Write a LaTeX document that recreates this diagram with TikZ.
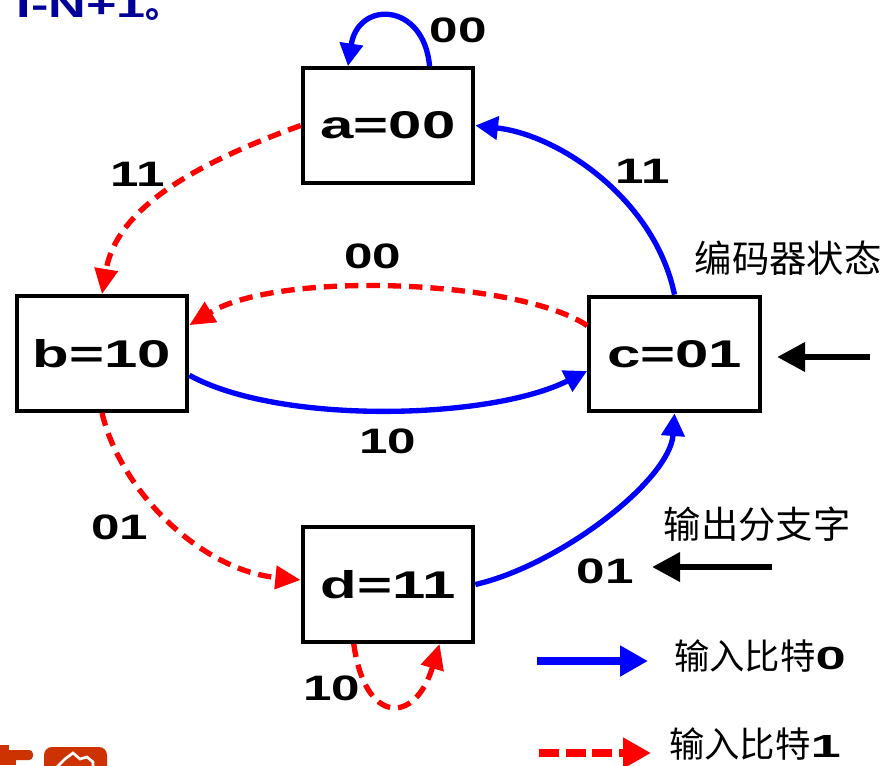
\documentclass[tikz,border=0pt]{standalone}
\usepackage{fontspec}
\setmainfont{Liberation Sans}
\newfontfamily\boxfont[FakeStretch=1.55]{Liberation Sans}
\newfontfamily\labfont[FakeStretch=1.45]{Liberation Sans}
\newfontfamily\legfont[FakeStretch=1.7]{Liberation Sans}
\newfontfamily\cjk{Noto Sans CJK SC}
\usetikzlibrary{arrows.meta}

\definecolor{bitzero}{RGB}{0,0,255}
\definecolor{bitone}{RGB}{255,0,0}
\definecolor{navy}{RGB}{0,0,153}
\definecolor{logo}{RGB}{204,51,0}

\tikzset{every picture/.style={line width=0.75pt}}
\tikzset{
  state/.style={draw, line width=3pt, minimum width=128pt, minimum height=86pt, inner sep=0pt,
    font=\boxfont\bfseries\fontsize{29}{34}\selectfont},
  zero/.style={-{Triangle[length=17pt,width=17pt]}, draw=bitzero, line width=4pt},
  one/.style={-{Triangle[length=19pt,width=17pt]}, draw=bitone, line width=4pt, dash pattern=on 10pt off 6pt},
  lab/.style={inner sep=0pt, font=\labfont\bfseries\fontsize{26.5}{30}\selectfont},
  cn/.style={inner sep=0pt, font=\cjk\fontsize{28}{32}\selectfont},
  pointer/.style={-{Triangle[length=21pt,width=21pt]}, line width=5pt}
}

\begin{document}
\begin{tikzpicture}[x=0.75pt,y=0.75pt,yscale=-1,xscale=1]
\useasboundingbox (0,0) rectangle (887,765);

% cut-off pieces at the edges
\begin{scope}
\clip (0,0) rectangle (887,765);
\node (head) [anchor=base west, inner sep=0pt, text=navy, font=\labfont\bfseries\fontsize{27}{30}\selectfont] at (16,17) {I-N+1{\cjk 。}};
\fill [logo] (0,745) rectangle (9,765);
\fill [logo, rounded corners=3] (0,750) rectangle (33,760);
\fill [logo] (0,758) rectangle (16,765);
\fill [logo, rounded corners=6] (44,747) rectangle (107,790);
\draw [white, line width=2pt] (57,767) -- (65,759) -- (73,753) -- (80,759) -- (87,757) -- (93,762) -- (93,767);
\end{scope}

% states
\node (a) [state] at (388,125.5) {a=00};
\node (b) [state] at (102,353.5) {b=10};
\node (c) [state] at (674.5,354) {c=01};
\node (d) [state] at (388,584.5) {d=11};

% input bit 0
\draw [zero] (a.55) .. controls (424,2) and (358,0) .. (a.124);
\draw [zero] (c.north) .. controls (655,200) and (560,135) .. (a.east);
\draw [zero] (b.-14) .. controls (280,425) and (490,420) .. (c.191);
\draw [zero] (d.east) .. controls (560,565) and (670,480) .. (c.south);

% input bit 1
\draw [one] (a.west) .. controls (200,162) and (117,206) .. (b.north);
\draw [one] (c.162) .. controls (520,280) and (280,270) .. (b.18);
\draw [one] (b.south) .. controls (120,490) and (200,570) .. (d.177);
\draw [one] (d.-120) .. controls (365,725) and (415,725) .. (d.-49);

% branch words
\node (l1) [lab] at (458,30) {00};
\node (l2) [lab] at (138,174) {11};
\node (l3) [lab] at (643,171) {11};
\node (l4) [lab] at (373,256) {00};
\node (l5) [lab] at (388,441) {10};
\node (l6) [lab] at (120,527) {01};
\node (l7) [lab] at (605,571) {01};
\node (l8) [lab] at (332,688) {10};

% notes
\node (state) [cn] at (788,258) {编码器状态};
\coordinate (ps) at (870,357);
\coordinate (pe) at (777,357);
\draw [pointer] (ps) -- (pe);
\node (word) [cn] at (757,524) {输出分支字};
\coordinate (qs) at (772,567);
\coordinate (qe) at (652,567);
\draw [pointer] (qs) -- (qe);

% legend
\coordinate (k0s) at (537,661);
\coordinate (k0e) at (648,661);
\draw [zero, line width=5.5pt, -{Triangle[length=21pt,width=22pt]}] (k0s) -- (k0e);
\node (key0) [cn, font=\cjk\fontsize{26.5}{30}\selectfont] at (760,656) {输入比特{\legfont\bfseries\fontsize{24}{28}\selectfont 0}};
\coordinate (k1s) at (539,753);
\coordinate (k1e) at (651,753);
\draw [one, line width=5.5pt, dash pattern=on 15pt off 5pt, -{Triangle[length=21pt,width=22pt]}] (k1s) -- (k1e);
\node (key1) [cn, font=\cjk\fontsize{26.5}{30}\selectfont] at (755,744) {输入比特{\legfont\bfseries\fontsize{24}{28}\selectfont 1}};

\end{tikzpicture}
\end{document}
